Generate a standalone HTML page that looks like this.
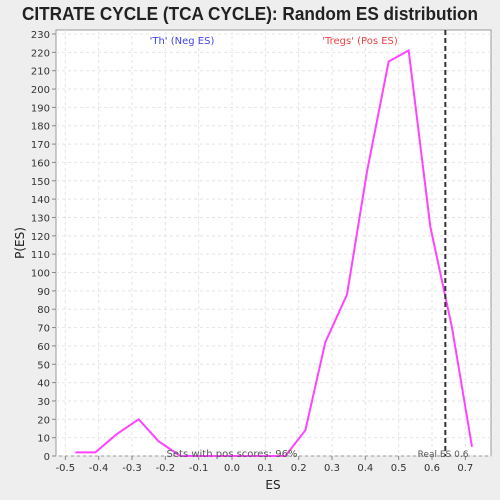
<!DOCTYPE html>
<html><head><meta charset="utf-8"><style>
body{margin:0;background:#eeeeee;font-family:"Liberation Sans","DejaVu Sans",sans-serif;overflow:hidden}
svg{display:block}
svg text{font-family:"DejaVu Sans","Liberation Sans",sans-serif}
</style></head><body>
<svg width="500" height="500">
<rect x="0" y="0" width="500" height="500" fill="#eeeeee"/>
<text x="22" y="20" textLength="456" lengthAdjust="spacingAndGlyphs" font-size="18" font-weight="bold" fill="#222" style="font-family:'Liberation Sans',sans-serif">CITRATE CYCLE (TCA CYCLE): Random ES distribution</text>
<rect x="56" y="30" width="435" height="426" fill="#fff" stroke="#999"/>
<g id="grid"></g><g id="axes"></g><g id="series"></g>
<text x="182" y="44" text-anchor="middle" font-size="10" fill="#4444ee">'Th' (Neg ES)</text>
<text x="360" y="44" text-anchor="middle" font-size="10" fill="#ee4444">'Tregs' (Pos ES)</text>
<text x="232" y="457" text-anchor="middle" font-size="10" fill="#555">Sets with pos scores: 96%</text>
<text x="443" y="457" text-anchor="middle" font-size="9" fill="#555">Real ES 0.6</text>
<text x="273" y="489" text-anchor="middle" font-size="12" fill="#222">ES</text>
<text x="24" y="243" text-anchor="middle" font-size="12" fill="#222" transform="rotate(-90 24 243)">P(ES)</text>
</svg>
<script>
const esValues=[-0.47,-0.41,-0.345,-0.28,-0.22,-0.155,-0.09,-0.03,0.03,0.095,0.16,0.22,0.28,0.345,0.405,0.47,0.53,0.595,0.66,0.72];
const pValues=[2,2,12,20,8,0,0,0,0,0,0,14,62,88,155,215,221,125,70,5];
const xTicks=[-0.5,-0.4,-0.3,-0.2,-0.1,0.0,0.1,0.2,0.3,0.4,0.5,0.6,0.7];
const yTicks=[0,10,20,30,40,50,60,70,80,90,100,110,120,130,140,150,160,170,180,190,200,210,220,230];
const realES=[0.64];
const NS="http://www.w3.org/2000/svg";
const X=v=>232+v*333.33, Y=v=>456-v*1.8348;
function mk(t,a,p){const e=document.createElementNS(NS,t);for(const k in a)e.setAttribute(k,a[k]);p.appendChild(e);return e;}
const g=document.getElementById('grid'),ax=document.getElementById('axes'),s=document.getElementById('series');
xTicks.forEach(v=>{const x=X(v);
 const l=mk('line',{x1:x,x2:x,y1:30,y2:456,stroke:'#e4e4e4','stroke-dasharray':'3,3'},g);
 
 
 mk('line',{x1:x,x2:x,y1:456,y2:460,stroke:'#888'},ax);
 const t=mk('text',{x:x,y:471,'text-anchor':'middle','font-size':'10',fill:'#333'},ax);t.textContent=v.toFixed(1);
 
 });
yTicks.forEach(v=>{const y=Y(v);
 const l=mk('line',{x1:56,x2:491,y1:y,y2:y,stroke:'#e4e4e4','stroke-dasharray':'3,3'},g);
 
 
 mk('line',{x1:52,x2:56,y1:y,y2:y,stroke:'#888'},ax);
 const t=mk('text',{x:50,y:y+4,'text-anchor':'end','font-size':'10',fill:'#333'},ax);t.textContent=v;
 
 });
const pl=mk('polyline',{points:esValues.map((v,i)=>X(v)+','+Y(pValues[i])).join(' '),fill:'none',stroke:'#ff44ff','stroke-width':2},s);


realES.forEach(v=>{const l=mk('line',{x1:X(v),x2:X(v),y1:30,y2:456,stroke:'#333','stroke-width':2,'stroke-dasharray':'5,3'},s);
 
 });
</script>
</body></html>
